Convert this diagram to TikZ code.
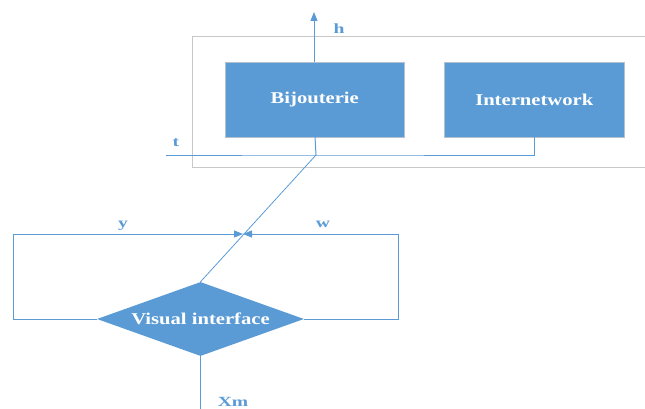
\documentclass[tikz,border=0pt]{standalone}
\usepackage{fontspec}
\setmainfont{Liberation Serif}
\usetikzlibrary{shapes.geometric,arrows.meta}
\definecolor{blueA}{HTML}{5B9BD5}
\definecolor{frameG}{HTML}{C8C8C8}
\definecolor{edgeG}{HTML}{B4C2D0}
\newcommand{\boxtxt}[1]{\scalebox{1.25}[1]{\fontsize{16.5}{18}\selectfont\bfseries #1}}
\newcommand{\labtxt}[1]{\scalebox{1.4}[1]{\fontsize{14}{16}\selectfont\bfseries #1}}
\begin{document}
\begin{tikzpicture}[x=1pt,y=-1pt,
  blockbox/.style={rectangle,fill=blueA,draw=edgeG,line width=0.5pt,inner sep=0,text=white,anchor=north west},
  decide/.style={diamond,fill=blueA,inner sep=0,aspect=2.8,minimum width=207pt,minimum height=74pt,text=white},
  wire/.style={draw=blueA,line width=1pt},
  tip/.style={-{Triangle[length=9pt,width=7pt]}},
  lab/.style={text=blueA,inner sep=0}]
\useasboundingbox (0,0) rectangle (645,409);
\draw[frameG,line width=0.9pt] (192,36) rectangle (680,167);
\node[blockbox,minimum width=179pt,minimum height=75pt] (bij) at (225,62) {};
\node[text=white] at (bij.center) {\boxtxt{Bijouterie}};
\node[blockbox,minimum width=180pt,minimum height=75pt] (inet) at (444,62) {};
\node[text=white] at (inet.center) {\boxtxt{Internetwork}};
\node[decide] (vis) at (200.5,319) {\boxtxt{Visual interface}};
\coordinate (htop) at (314,12);
\coordinate (hbot) at (314,62);
\coordinate (tL) at (166,155);
\coordinate (J) at (316,155);
\coordinate (bbot) at (315,137);
\coordinate (ibot) at (534,137);
\coordinate (M) at (243,234);
\coordinate (xmend) at (200.5,409);
\draw[wire,tip] (hbot) -- (htop);
\draw[wire] (tL) -- (J) -- (534,155) -- (ibot);
\draw[wire] (bbot) -- (J);
\draw[wire,line width=0.8pt] (J) -- (vis.north);
\draw[wire,tip] (vis.west) -- (13,319) -- (13,234) -- (M);
\draw[wire,tip] (vis.east) -- (398,319) -- (398,234) -- (M);
\draw[wire] (vis.south) -- (xmend);
\node[lab] (lh) at (339,29) {\labtxt{h}};
\node[lab] (lt) at (176,143) {\labtxt{t}};
\node[lab] (ly) at (123,226) {\labtxt{y}};
\node[lab] (lw) at (323,224) {\labtxt{w}};
\node[lab] (lxm) at (233,402) {\labtxt{Xm}};
\end{tikzpicture}
\end{document}
